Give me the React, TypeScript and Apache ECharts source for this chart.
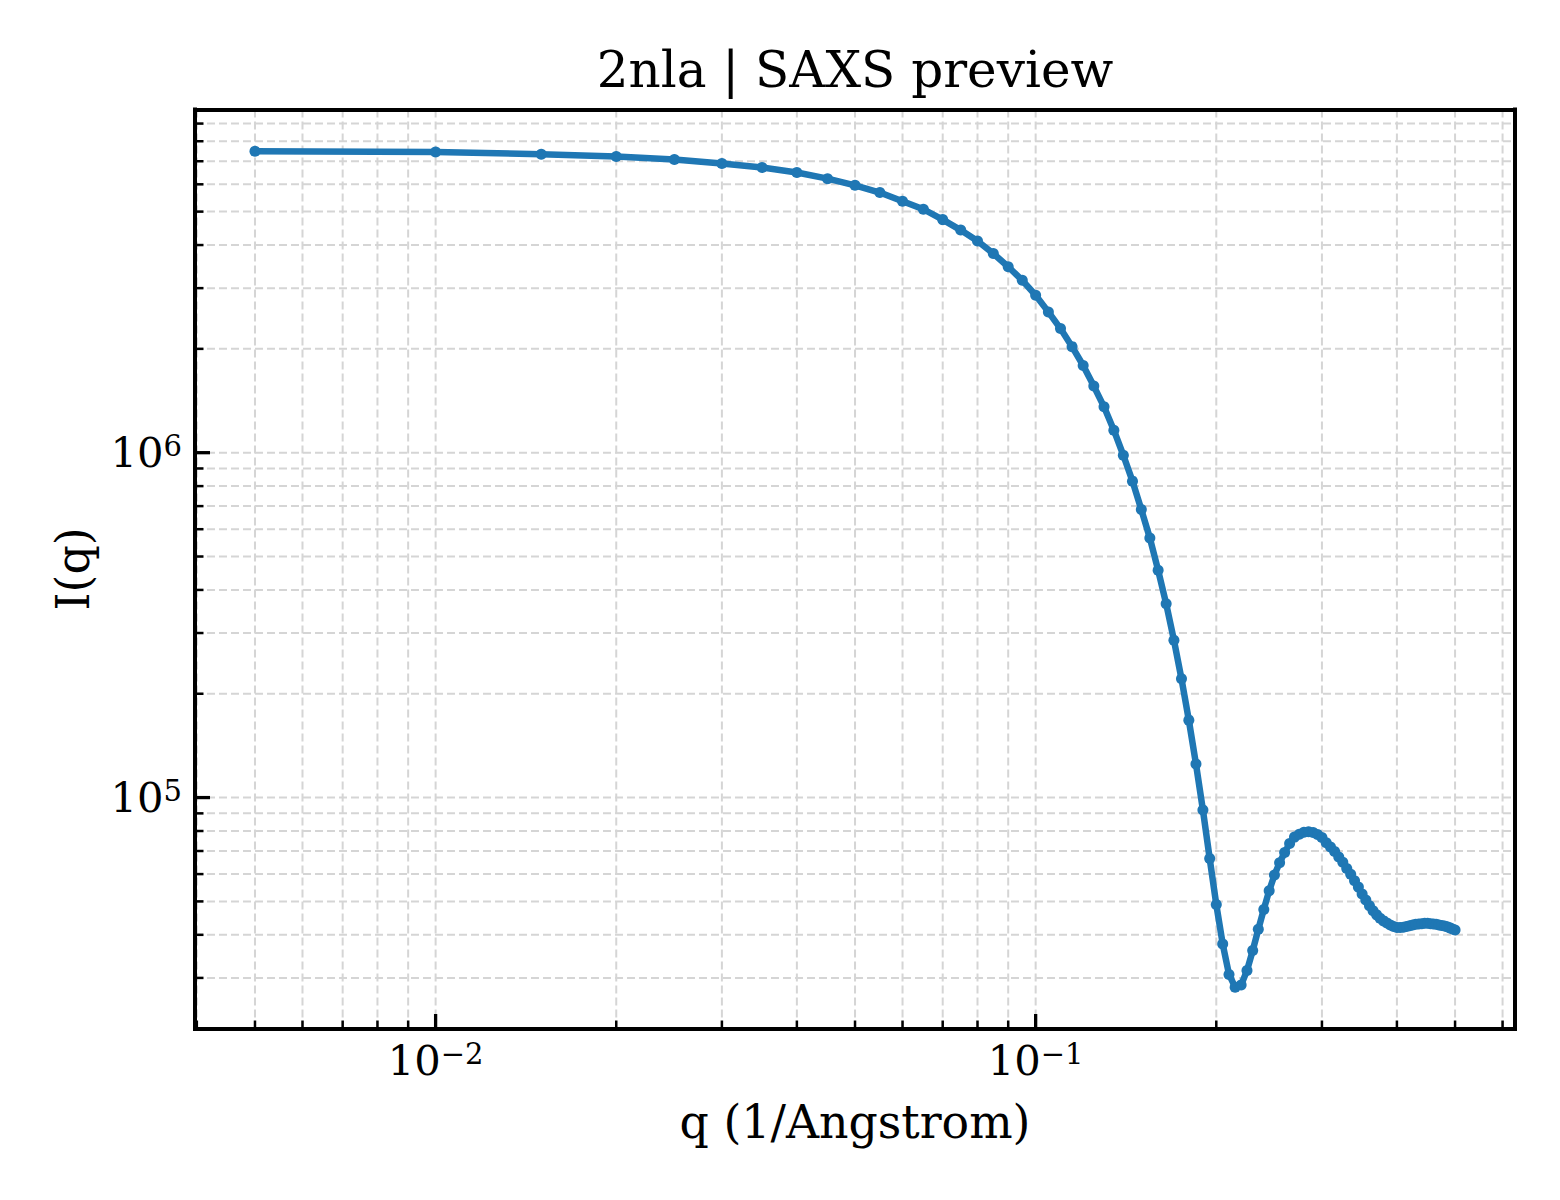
import React, { useEffect, useRef } from "react";
import * as echarts from "echarts";

// ---- data ----
const qValues = [
  0.005, 0.01, 0.015, 0.02, 0.025, 0.03, 0.035, 0.04, 0.045, 0.05,
  0.055, 0.06, 0.065, 0.07, 0.075, 0.08, 0.085, 0.09, 0.095, 0.1,
  0.105, 0.11, 0.115, 0.12, 0.125, 0.13, 0.135, 0.14, 0.145, 0.15,
  0.155, 0.16, 0.165, 0.17, 0.175, 0.18, 0.185, 0.19, 0.195, 0.2,
  0.205, 0.21, 0.215, 0.22, 0.225, 0.23, 0.235, 0.24, 0.245, 0.25,
  0.255, 0.26, 0.265, 0.27, 0.275, 0.28, 0.285, 0.29, 0.295, 0.3,
  0.305, 0.31, 0.315, 0.32, 0.325, 0.33, 0.335, 0.34, 0.345, 0.35,
  0.355, 0.36, 0.365, 0.37, 0.375, 0.38, 0.385, 0.39, 0.395, 0.4,
  0.405, 0.41, 0.415, 0.42, 0.425, 0.43, 0.435, 0.44, 0.445, 0.45,
  0.455, 0.46, 0.465, 0.47, 0.475, 0.48, 0.485, 0.49, 0.495, 0.5,
];

const intensity = [
  7.48e6, 7.45e6, 7.33e6, 7.22e6, 7.08e6, 6.89e6, 6.71e6, 6.49e6, 6.23e6, 5.96e6,
  5.68e6, 5.36e6, 5.08e6, 4.74e6, 4.42e6, 4.11e6, 3.78e6, 3.46e6, 3.16e6, 2.86e6,
  2.56e6, 2.29e6, 2.03e6, 1.79e6, 1.56e6, 1.358e6, 1.162e6, 9.83e5, 8.27e5, 6.84e5,
  5.66e5, 4.56e5, 3.65e5, 2.86e5, 2.21e5, 1.677e5, 1.251e5, 9.2e4, 6.66e4, 4.9e4,
  3.76e4, 3.07e4, 2.82e4, 2.86e4, 3.15e4, 3.6e4, 4.15e4, 4.74e4, 5.37e4, 5.96e4,
  6.47e4, 6.93e4, 7.36e4, 7.68e4, 7.83e4, 7.93e4, 7.96e4, 7.92e4, 7.81e4, 7.66e4,
  7.4e4, 7.19e4, 6.98e4, 6.73e4, 6.49e4, 6.23e4, 5.99e4, 5.74e4, 5.5e4, 5.25e4,
  5.05e4, 4.86e4, 4.7e4, 4.57e4, 4.47e4, 4.39e4, 4.33e4, 4.27e4, 4.23e4, 4.2e4,
  4.2e4, 4.21e4, 4.23e4, 4.25e4, 4.27e4, 4.29e4, 4.3e4, 4.31e4, 4.32e4, 4.32e4,
  4.31e4, 4.3e4, 4.29e4, 4.27e4, 4.26e4, 4.24e4, 4.22e4, 4.19e4, 4.16e4, 4.13e4,
];

const xMajorTicks = [0.01, 0.1];
const xMajorExponents = ["\u22122", "\u22121"];
const xMinorTicks = [
  0.004, 0.005, 0.006, 0.007, 0.008, 0.009,
  0.02, 0.03, 0.04, 0.05, 0.06, 0.07, 0.08, 0.09,
  0.2, 0.3, 0.4, 0.5, 0.6,
];
const yMajorTicks = [1e5, 1e6];
const yMajorExponents = ["5", "6"];
const yMinorTicks = [
  3e4, 4e4, 5e4, 6e4, 7e4, 8e4, 9e4,
  2e5, 3e5, 4e5, 5e5, 6e5, 7e5, 8e5, 9e5,
  2e6, 3e6, 4e6, 5e6, 6e6, 7e6, 8e6, 9e6,
];

const xRange = [0.003972, 0.6293];
const yRange = [2.133e4, 9.887e6];

const titleText = "2nla | SAXS preview";
const xLabelText = "q (1/Angstrom)";
const yLabelText = "I(q)";

// ---- styles ----
const FONT = "'DejaVu Serif', 'Liberation Serif', serif";
const LINE_COLOR = "#1f77b4";
const GRID_COLOR = "#d5d5d5";

const matchIndex = (ticks: number[], v: number) =>
  ticks.findIndex((t) => Math.abs(Math.log10(v) - Math.log10(t)) < 1e-6);

const richLabel = {
  b: { fontFamily: FONT, fontSize: 41.7, lineHeight: 42, color: "#000" },
  s: { fontFamily: FONT, fontSize: 29, lineHeight: 19, verticalAlign: "top", color: "#000" },
};

export default function App() {
  const ref = useRef<HTMLDivElement>(null);

  useEffect(() => {
    if (!ref.current) return;
    const chart = echarts.init(ref.current, undefined, { renderer: "svg" });

    const vData = [
      ...xMajorTicks.map((v) => [v, yRange[0], 1]),
      ...xMinorTicks.map((v) => [v, yRange[0], 0]),
    ];
    const hData = [
      ...yMajorTicks.map((v) => [xRange[0], v, 1]),
      ...yMinorTicks.map((v) => [xRange[0], v, 0]),
    ];

    const spine = { show: true, lineStyle: { color: "#000", width: 4, cap: "square" } };

    const option: any = {
      animation: false,
      backgroundColor: "#fff",
      textStyle: { fontFamily: FONT },
      grid: { left: 195, right: 45, top: 109.5, bottom: 171, containLabel: false },
      xAxis: [
        {
          type: "log",
          logBase: 10,
          min: xRange[0],
          max: xRange[1],
          position: "bottom",
          z: 10,
          axisLine: spine,
          axisTick: { show: false },
          splitLine: { show: false },
          minorTick: { show: false },
          minorSplitLine: { show: false },
          axisLabel: {
            margin: 10,
            color: "#000",
            formatter: (v: number) => {
              const i = matchIndex(xMajorTicks, v);
              return i >= 0 ? `{b|10}{s|${xMajorExponents[i]}}` : "";
            },
            rich: richLabel,
          },
        },
        {
          type: "log",
          logBase: 10,
          min: xRange[0],
          max: xRange[1],
          position: "top",
          z: 10,
          axisLine: spine,
          axisTick: { show: false },
          axisLabel: { show: false },
          splitLine: { show: false },
        },
      ],
      yAxis: [
        {
          type: "log",
          logBase: 10,
          min: yRange[0],
          max: yRange[1],
          position: "left",
          z: 10,
          axisLine: spine,
          axisTick: { show: false },
          splitLine: { show: false },
          minorTick: { show: false },
          minorSplitLine: { show: false },
          axisLabel: {
            margin: 13,
            color: "#000",
            formatter: (v: number) => {
              const i = matchIndex(yMajorTicks, v);
              return i >= 0 ? `{b|10}{s|${yMajorExponents[i]}}` : "";
            },
            rich: richLabel,
          },
        },
        {
          type: "log",
          logBase: 10,
          min: yRange[0],
          max: yRange[1],
          position: "right",
          z: 10,
          axisLine: spine,
          axisTick: { show: false },
          axisLabel: { show: false },
          splitLine: { show: false },
        },
      ],
      graphic: [
        {
          type: "text",
          x: 855,
          y: 70,
          silent: true,
          style: {
            text: titleText,
            fontFamily: FONT,
            fontSize: 50,
            fill: "#000",
            align: "center",
            verticalAlign: "middle",
          },
        },
        {
          type: "text",
          x: 855,
          y: 1122,
          silent: true,
          style: {
            text: xLabelText,
            fontFamily: FONT,
            fontSize: 45.8,
            fill: "#000",
            align: "center",
            verticalAlign: "middle",
          },
        },
        {
          type: "text",
          x: 73,
          y: 569,
          rotation: Math.PI / 2,
          silent: true,
          style: {
            text: yLabelText,
            fontFamily: FONT,
            fontSize: 45.8,
            fill: "#000",
            align: "center",
            verticalAlign: "middle",
          },
        },
      ],
      series: [
        {
          type: "custom",
          name: "xgrid",
          xAxisIndex: 0,
          yAxisIndex: 0,
          silent: true,
          z: 1,
          data: vData,
          renderItem: (params: any, api: any) => {
            const cs = params.coordSys;
            const px = api.coord([api.value(0), api.value(1)])[0];
            const major = api.value(2) === 1;
            const bottom = cs.y + cs.height;
            return {
              type: "group",
              children: [
                {
                  type: "line",
                  shape: { x1: px, y1: cs.y, x2: px, y2: bottom },
                  style: { stroke: GRID_COLOR, lineWidth: 2, lineDash: [8, 4] },
                },
                {
                  type: "line",
                  shape: { x1: px, y1: bottom, x2: px, y2: bottom - (major ? 15 : 8.5) },
                  style: { stroke: "#000", lineWidth: major ? 3.3 : 2.5 },
                },
              ],
            };
          },
        },
        {
          type: "custom",
          name: "ygrid",
          xAxisIndex: 0,
          yAxisIndex: 0,
          silent: true,
          z: 1,
          data: hData,
          renderItem: (params: any, api: any) => {
            const cs = params.coordSys;
            const py = api.coord([api.value(0), api.value(1)])[1];
            const major = api.value(2) === 1;
            return {
              type: "group",
              children: [
                {
                  type: "line",
                  shape: { x1: cs.x, y1: py, x2: cs.x + cs.width, y2: py },
                  style: { stroke: GRID_COLOR, lineWidth: 2, lineDash: [8, 4] },
                },
                {
                  type: "line",
                  shape: { x1: cs.x, y1: py, x2: cs.x + (major ? 15 : 8.5), y2: py },
                  style: { stroke: "#000", lineWidth: major ? 3.3 : 2.5 },
                },
              ],
            };
          },
        },
        {
          type: "line",
          name: "I(q)",
          xAxisIndex: 0,
          yAxisIndex: 0,
          z: 3,
          silent: true,
          data: qValues.map((q, i) => [q, intensity[i]]),
          symbol: "circle",
          symbolSize: 11,
          showSymbol: true,
          showAllSymbol: true,
          lineStyle: { color: LINE_COLOR, width: 6.5 },
          itemStyle: { color: LINE_COLOR },
          emphasis: { disabled: true },
        },
      ],
    };

    chart.setOption(option);
    return () => chart.dispose();
  }, []);

  return (
    <div
      ref={ref}
      style={{ position: "absolute", left: 0, top: 0, width: 1560, height: 1200, background: "#fff" }}
    />
  );
}
